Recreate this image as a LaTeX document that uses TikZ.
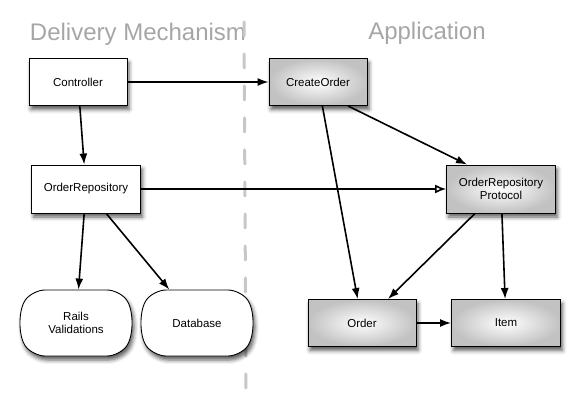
\documentclass[tikz,border=0pt]{standalone}
\usepackage{fontspec}
\setmainfont{Liberation Sans}
\usetikzlibrary{arrows.meta,shapes.misc,shadows.blur}

\begin{document}
\begin{tikzpicture}[x=1pt, y=-1pt,
  box/.style={draw, line width=0.9pt, minimum width=98pt, minimum height=47pt,
    align=center, fill=white, font=\fontsize{11.5}{13.5}\selectfont,
    blur shadow={shadow xshift=2pt, shadow yshift=-4pt, shadow blur radius=4pt, shadow opacity=65}},
  app/.style={box, inner color=white, outer color=black!24},
  store/.style={box, rounded rectangle, rounded rectangle arc length=75, rounded corners=12pt,
    minimum width=104pt, minimum height=66pt},
  dep/.style={-{Latex[length=11pt,width=8pt]}, line width=1.6pt},
  impl/.style={-{Latex[open,length=11pt,width=9pt]}, line width=1.6pt},
  title/.style={font=\fontsize{24}{28}\selectfont, text=black!35},
  divider/.style={black!22, line width=3pt, line cap=round, dash pattern=on 14pt off 18pt}]
  \useasboundingbox (0,0) rectangle (581,412);
  \node[title] (dm) at (138,34) {Delivery Mechanism};
  \node[title] (ap) at (427,33) {Application};
  \coordinate (divtop) at (244,22);
  \coordinate (divbot) at (246,390);
  \draw[divider] (divtop) -- (divbot);
  \node[box] (ctrl) at (78,82) {Controller};
  \node[app] (create) at (318,82) {CreateOrder};
  \node[box, minimum width=109pt, minimum height=48pt] (repo) at (86,189) {OrderRepository};
  \node[app, minimum width=109pt, minimum height=48pt] (proto) at (501,189) {OrderRepository\\Protocol};
  \node[store] (rails) at (76,323) {Rails\\Validations};
  \node[store] (db) at (197,323) {Database};
  \node[app, minimum width=108pt] (order) at (362,323) {Order};
  \node[app, minimum width=109pt] (item) at (506,323) {Item};
  \draw[dep] (ctrl) -- (create);
  \draw[dep] (ctrl) -- (repo);
  \draw[impl] (repo) -- (proto);
  \draw[dep] (repo) -- (rails);
  \draw[dep] (repo) -- (db);
  \draw[dep] (create) -- (order);
  \draw[dep] ([xshift=30pt]create.south) -- ([xshift=-34pt]proto.north);
  \draw[dep] ([xshift=-26pt]proto.south) -- ([xshift=26pt]order.north);
  \draw[dep] (proto) -- (item);
  \draw[dep] (order) -- (item);
\end{tikzpicture}
\end{document}
